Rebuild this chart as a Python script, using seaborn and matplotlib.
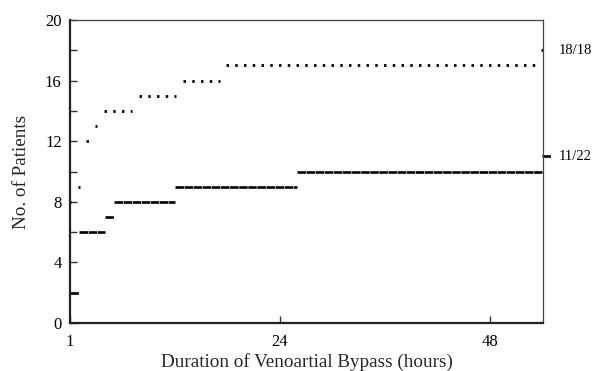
import matplotlib
matplotlib.use("Agg")
import matplotlib.pyplot as plt
import seaborn as sns
import pandas as pd
import numpy as np

# ---- data ----
# dotted series (18 patients): horizontal step segments [start_hour, end_hour, count]
dot_start = [0, 1, 2, 3, 4, 8, 13, 18, 54]
dot_end = [0, 1, 2, 3, 7, 12, 17, 53, 54]
dot_count = [8, 9, 12, 13, 14, 15, 16, 17, 18]

# solid (dashed) series (22 patients)
sol_start = [0, 1, 4, 5, 12, 26, 54]
sol_end = [1, 4, 5, 12, 26, 54, 55]
sol_count = [2, 6, 7, 8, 9, 10, 11]

end_labels = ["18/18", "11/22"]
end_values = [18, 11]

x_ticks = [0, 24, 48]
x_ticklabels = ["1", "24", "48"]
y_major = [0, 4, 8, 12, 16, 20]
y_minor = [2, 6, 10, 14, 18]

sns.set_theme(style="white")
plt.rcParams["font.family"] = ["Liberation Serif", "DejaVu Serif"]

fig = plt.figure(figsize=(5.94, 3.71), dpi=100)
ax = fig.add_axes([70 / 594, 48 / 371, 473 / 594, 303 / 371])

half_dot = 0.14

rows = []
for i, (s, e, c) in enumerate(zip(dot_start, dot_end, dot_count)):
    rows.append(dict(hour=s - half_dot, patients=c, seg=f"d{i}", kind="dotted"))
    rows.append(dict(hour=e + half_dot, patients=c, seg=f"d{i}", kind="dotted"))
df_dot = pd.DataFrame(rows)

rows = []
for i, (s, e, c) in enumerate(zip(sol_start, sol_end, sol_count)):
    rows.append(dict(hour=s, patients=c, seg=f"s{i}", kind="solid"))
    rows.append(dict(hour=e, patients=c, seg=f"s{i}", kind="solid"))
df_sol = pd.DataFrame(rows)

# period of dotted pattern = 1 hour = 8.75 px = 6.3 pt
sns.lineplot(data=df_dot, x="hour", y="patients", units="seg", estimator=None,
             style="kind", dashes={"dotted": (0.9, 2.25)},
             color="black", lw=2.0, legend=False, ax=ax)
sns.lineplot(data=df_sol, x="hour", y="patients", units="seg", estimator=None,
             style="kind", dashes={"solid": (3.2, 0.25)},
             color="black", lw=1.9, legend=False, ax=ax)
for ln in ax.get_lines():
    ln.set_clip_on(False)
    ln.set_dash_capstyle("butt")

ax.set_xlim(0, 54.06)
ax.set_ylim(0, 20)

ax.set_xticks(x_ticks)
ax.set_xticklabels(x_ticklabels)
ax.set_yticks(y_major)
ax.set_yticks(y_minor, minor=True)

ax.tick_params(axis="both", which="both", direction="in", length=5, width=1,
               color="#333333", labelsize=12, labelcolor="black")
ax.tick_params(axis="y", which="both", left=True, right=False, pad=6)
ax.tick_params(axis="x", which="both", bottom=True, top=False, pad=8)

for side in ["left", "bottom"]:
    ax.spines[side].set_linewidth(1.6)
    ax.spines[side].set_color("#222222")
for side in ["top", "right"]:
    ax.spines[side].set_linewidth(0.9)
    ax.spines[side].set_color("#444444")

for lab, v in zip(end_labels, end_values):
    ax.text(55.9, v, lab, fontsize=10.5, va="center", ha="left", color="black")

ax.set_xlabel("Duration of Venoartial Bypass (hours)", fontsize=13.8, labelpad=2)
ax.set_ylabel("No. of Patients", fontsize=13.8, labelpad=11)

fig.savefig("out.png", dpi=100)
